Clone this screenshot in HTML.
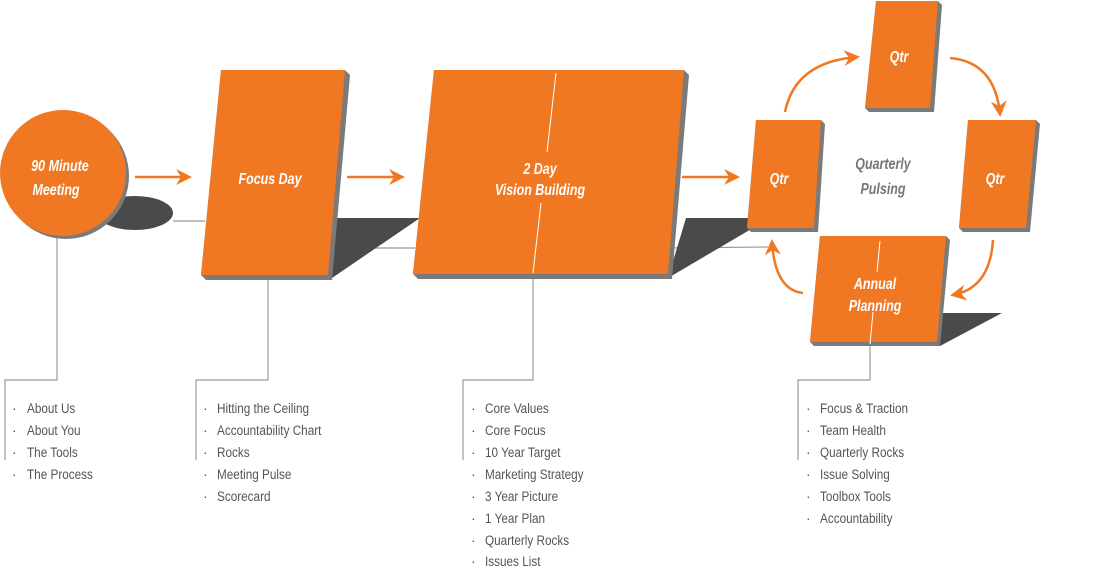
<!DOCTYPE html>
<html><head><meta charset="utf-8"><style>
html,body{margin:0;padding:0;background:#fff;width:1106px;height:566px;overflow:hidden}
svg{display:block}
.t{font-family:"Liberation Sans",sans-serif;font-style:italic;font-weight:bold;fill:#fff;font-size:16px;text-anchor:middle}
.l{font-family:"Liberation Sans",sans-serif;fill:#555;font-size:14px}
</style></head><body>
<svg width="1106" height="566" viewBox="0 0 1106 566" xmlns="http://www.w3.org/2000/svg">
<defs><marker id="ah" markerWidth="16" markerHeight="16" refX="13" refY="8" orient="auto" markerUnits="userSpaceOnUse"><path d="M0,0 L16,8 L0,16 L5,8 Z" fill="#f07822"/></marker></defs>
<g stroke="#999" stroke-width="1.2" fill="none">
<line x1="173" y1="221" x2="205" y2="221"/>
<line x1="330" y1="248" x2="415" y2="248"/>
<line x1="665" y1="248" x2="768" y2="247"/>
<polyline points="57,237 57,380 5,380 5,460"/>
<polyline points="268,278 268,380 196,380 196,460"/>
<polyline points="533,276 533,380 463,380 463,460"/>
<polyline points="870,344 870,380 798,380 798,460"/>
</g>
<ellipse cx="135" cy="213" rx="38" ry="17" fill="#4a4a4a"/>
<polygon points="335,218 420,218 332,278" fill="#4a4a4a"/>
<polygon points="686,218 770,218 668,278" fill="#4a4a4a"/>
<polygon points="940,313 1002,313 940,346" fill="#4a4a4a"/>
<circle cx="66" cy="176" r="63" fill="#7a7a7a"/>
<circle cx="63" cy="173" r="63" fill="#f07822"/>
<g class="t">
<text transform="translate(60,171) scale(0.78,1)">90 Minute</text>
<text transform="translate(56,195) scale(0.78,1)">Meeting</text>
</g>
<polygon points="221,70 345,70 350,75 332,280 206,280 201,275" fill="#7a7a7a"/>
<polygon points="221,70 345,70 328,275 201,275" fill="#f07822"/>
<text class="t" transform="translate(270,184) scale(0.78,1)">Focus Day</text>
<polygon points="434,70 684,70 689,75 672,279 418,279 413,274" fill="#7a7a7a"/>
<polygon points="434,70 684,70 668,274 413,274" fill="#f07822"/>
<line x1="556" y1="73" x2="547" y2="152" stroke="#fff" stroke-width="1"/>
<line x1="541" y1="203" x2="533" y2="273" stroke="#fff" stroke-width="1"/>
<text class="t" transform="translate(540,174) scale(0.78,1)">2 Day</text>
<text class="t" transform="translate(540,195) scale(0.78,1)">Vision Building</text>
<polygon points="756,120 821,120 825,124 818,232 751,232 747,228" fill="#7a7a7a"/>
<polygon points="756,120 821,120 814,228 747,228" fill="#f07822"/>
<text class="t" transform="translate(779,184) scale(0.78,1)">Qtr</text>
<polygon points="876,1 938,1 942,5 934,112 869,112 865,108" fill="#7a7a7a"/>
<polygon points="876,1 938,1 930,108 865,108" fill="#f07822"/>
<text class="t" transform="translate(899,62) scale(0.78,1)">Qtr</text>
<polygon points="968,120 1036,120 1040,124 1030,232 963,232 959,228" fill="#7a7a7a"/>
<polygon points="968,120 1036,120 1026,228 959,228" fill="#f07822"/>
<text class="t" transform="translate(995,184) scale(0.78,1)">Qtr</text>
<polygon points="820,236 946,236 950,240 940,346 814,346 810,342" fill="#7a7a7a"/>
<polygon points="820,236 946,236 937,342 810,342" fill="#f07822"/>
<line x1="880" y1="241" x2="877" y2="272" stroke="#fff" stroke-width="1"/>
<line x1="873" y1="312" x2="870" y2="344" stroke="#fff" stroke-width="1"/>
<text class="t" transform="translate(875,289) scale(0.78,1)">Annual</text>
<text class="t" transform="translate(875,311) scale(0.78,1)">Planning</text>
<text class="t" style="fill:#777" transform="translate(883,169) scale(0.78,1)">Quarterly</text>
<text class="t" style="fill:#777" transform="translate(883,194) scale(0.78,1)">Pulsing</text>
<g stroke="#f07822" stroke-width="2.5" fill="none" marker-end="url(#ah)">
<line x1="135" y1="177" x2="189" y2="177"/>
<line x1="347" y1="177" x2="402" y2="177"/>
<line x1="682" y1="177" x2="737" y2="177"/>
<path d="M785,112 Q795,62 857,57"/>
<path d="M950,58 Q995,62 1000,114"/>
<path d="M993,240 Q990,288 953,295"/>
<path d="M803,293 Q775,290 772,242"/>
</g>
<g class="l">
<text x="12" y="413">·</text><text x="12" y="435">·</text><text x="12" y="457">·</text><text x="12" y="479">·</text>
<text x="203" y="413">·</text><text x="203" y="435">·</text><text x="203" y="457">·</text><text x="203" y="479">·</text><text x="203" y="501">·</text>
<text x="471" y="413">·</text><text x="471" y="435">·</text><text x="471" y="457">·</text><text x="471" y="479">·</text><text x="471" y="501">·</text><text x="471" y="523">·</text><text x="471" y="545">·</text><text x="471" y="566">·</text>
<text x="806" y="413">·</text><text x="806" y="435">·</text><text x="806" y="457">·</text><text x="806" y="479">·</text><text x="806" y="501">·</text><text x="806" y="523">·</text>
<g transform="translate(27,0) scale(0.84,1)">
<text y="413">About Us</text><text y="435">About You</text><text y="457">The Tools</text><text y="479">The Process</text>
</g>
<g transform="translate(217,0) scale(0.84,1)">
<text y="413">Hitting the Ceiling</text><text y="435">Accountability Chart</text><text y="457">Rocks</text><text y="479">Meeting Pulse</text><text y="501">Scorecard</text>
</g>
<g transform="translate(485,0) scale(0.84,1)">
<text y="413">Core Values</text><text y="435">Core Focus</text><text y="457">10 Year Target</text><text y="479">Marketing Strategy</text><text y="501">3 Year Picture</text><text y="523">1 Year Plan</text><text y="545">Quarterly Rocks</text><text y="566">Issues List</text>
</g>
<g transform="translate(820,0) scale(0.84,1)">
<text y="413">Focus &amp; Traction</text><text y="435">Team Health</text><text y="457">Quarterly Rocks</text><text y="479">Issue Solving</text><text y="501">Toolbox Tools</text><text y="523">Accountability</text>
</g>
</g>
</svg>
</body></html>
